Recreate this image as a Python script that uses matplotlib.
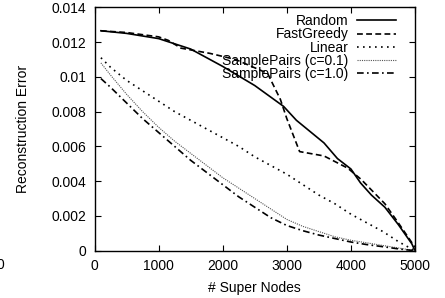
import matplotlib
matplotlib.use("Agg")
import matplotlib.pyplot as plt

plt.rcParams['font.family'] = ['Liberation Sans', 'DejaVu Sans']

# ---- data ----
random_x = [100, 500, 1000, 1500, 1800, 2000, 2500, 2950, 3150, 3580, 3790, 4000, 4150, 4320, 4530, 4740, 4950, 5000]
random_y = [0.01265, 0.0125, 0.0122, 0.0116, 0.0110, 0.0106, 0.0095, 0.0083, 0.0075, 0.0062, 0.0053, 0.0047, 0.0039, 0.0032, 0.0025, 0.0015, 0.0004, 0.0]

greedy_x = [100, 500, 1000, 1150, 1350, 1800, 2200, 2700, 2900, 3000, 3200, 3580, 3950, 4160, 4530, 4740, 5000]
greedy_y = [0.01265, 0.01255, 0.0123, 0.0121, 0.01165, 0.01135, 0.0110, 0.0102, 0.0087, 0.0076, 0.0057, 0.00545, 0.00475, 0.0041, 0.0027, 0.0016, 0.0002]

common_x = [100, 250, 500, 750, 1000, 1250, 1500, 1750, 2000, 2250, 2500,
            2750, 3000, 3250, 3500, 3750, 4000, 4250, 4500, 4750, 5000]
linear_y = [0.0111, 0.01055, 0.0098, 0.0092, 0.0086, 0.0080, 0.0075, 0.0070, 0.0065, 0.0060, 0.0054,
            0.0049, 0.0044, 0.0038, 0.0032, 0.0027, 0.0021, 0.0016, 0.0011, 0.0005, 0.0]
sp01_y = [0.0108, 0.0101, 0.0090, 0.0080, 0.0071, 0.0063, 0.0056, 0.0049, 0.0042, 0.0036, 0.0030,
          0.0024, 0.0018, 0.0014, 0.0011, 0.0008, 0.0006, 0.00045, 0.0003, 0.00015, 0.0]
sp10_y = [0.0099, 0.0094, 0.0085, 0.0076, 0.0068, 0.0060, 0.0052, 0.0045, 0.0038, 0.0031, 0.0025,
          0.0019, 0.00145, 0.00115, 0.0009, 0.0007, 0.0005, 0.00035, 0.00023, 0.0001, 0.0]

labels = ["Random", "FastGreedy", "Linear", "SamplePairs (c=0.1)", "SamplePairs (c=1.0)"]
x_ticks = [0, 1000, 2000, 3000, 4000, 5000]
y_ticks = [0, 0.002, 0.004, 0.006, 0.008, 0.01, 0.012, 0.014]
y_tick_labels = ["0", "0.002", "0.004", "0.006", "0.008", "0.01", "0.012", "0.014"]

# ---- figure ----
W, H = 445, 298
fig = plt.figure(figsize=(W / 100, H / 100), dpi=100)
ax = fig.add_axes([94.5 / W, 1 - 250.7 / H, (415 - 94.5) / W, (250.7 - 7.3) / H])

fs = 10
ax.plot(random_x, random_y, color='black', lw=1.2, linestyle='-', label=labels[0])
ax.plot(greedy_x, greedy_y, color='black', lw=1.2, linestyle=(0, (3.5, 2)), label=labels[1])
ax.plot(common_x, linear_y, color='black', lw=1.2, linestyle=(0, (1, 2.6)), label=labels[2])
ax.plot(common_x, sp01_y, color='#555555', lw=0.8, linestyle=(0, (1, 1)), label=labels[3])
ax.plot(common_x, sp10_y, color='black', lw=1.2, linestyle=(0, (4, 2, 1, 2)), label=labels[4])

ax.set_xlim(0, 5000)
ax.set_ylim(0, 0.014)
ax.set_xticks(x_ticks)
ax.set_xticklabels([str(t) for t in x_ticks], fontsize=fs)
ax.set_yticks(y_ticks)
ax.set_yticklabels(y_tick_labels, fontsize=fs)
ax.tick_params(direction='in', length=4.5, width=0.8, top=True, right=True, pad=6)
for s in ax.spines.values():
    s.set_linewidth(1.0)

ax.set_xlabel("# Super Nodes", fontsize=fs, labelpad=6)
ax.set_ylabel("Reconstruction Error", fontsize=fs, labelpad=15)

leg = ax.legend(loc='upper right', bbox_to_anchor=(0.94, 0.972), frameon=False,
                markerfirst=False, alignment='right', fontsize=fs,
                handlelength=2.8, handletextpad=0.6, labelspacing=-0.05,
                borderpad=0.0, borderaxespad=0.0)

# stray clipped tick label from neighbouring panel
fig.text(0.0, 1 - 265 / H, "0", fontsize=fs, ha='center', va='center')

fig.savefig("out.png", dpi=100)
